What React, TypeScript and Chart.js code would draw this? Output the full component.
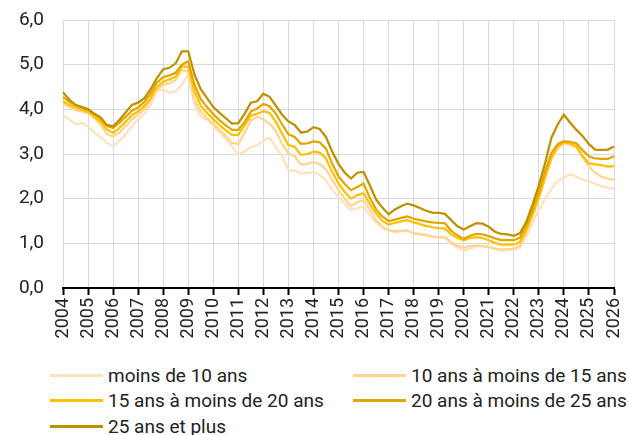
import React, { useEffect, useRef } from 'react';
import { Chart, registerables } from 'chart.js';

Chart.register(...registerables);

const years = [2004, 2005, 2006, 2007, 2008, 2009, 2010, 2011, 2012, 2013, 2014, 2015, 2016, 2017, 2018, 2019, 2020, 2021, 2022, 2023, 2024, 2025, 2026];
const quarters = ['T1', 'T2', 'T3', 'T4'];

const seriesNames = [
  'moins de 10 ans',
  '10 ans à moins de 15 ans',
  '15 ans à moins de 20 ans',
  '20 ans à moins de 25 ans',
  '25 ans et plus',
];
const seriesColors = ['#FFE2BC', '#FFD592', '#FFC000', '#E0A800', '#BF9000'];

const moins10 = [3.86, 3.78, 3.66, 3.70, 3.62, 3.48, 3.38, 3.25, 3.17, 3.30, 3.45, 3.62, 3.77, 3.90, 4.10, 4.42, 4.44, 4.37, 4.40, 4.55, 4.78, 4.10, 3.83, 3.77, 3.62, 3.48, 3.33, 3.17, 2.98, 3.06, 3.15, 3.19, 3.30, 3.36, 3.15, 2.95, 2.64, 2.63, 2.57, 2.57, 2.60,
  2.53, 2.40, 2.20, 2.04, 1.88, 1.74, 1.79, 1.82, 1.62, 1.47, 1.35, 1.29, 1.25, 1.27, 1.29, 1.23, 1.22, 1.20, 1.15, 1.13, 1.14, 1.00, 0.90, 0.84, 0.88, 0.93, 0.93, 0.92, 0.87, 0.84, 0.85, 0.86, 0.90, 1.15, 1.45, 1.75, 2.00, 2.22, 2.39, 2.47, 2.55, 2.49, 2.43, 2.39, 2.33, 2.28, 2.25, 2.22];
const de10a15 = [4.14, 4.05, 3.98, 3.95, 3.92, 3.80, 3.65, 3.45, 3.39, 3.48, 3.62, 3.77, 3.88, 4.00, 4.20, 4.45, 4.55, 4.58, 4.66, 4.88, 4.85, 4.20, 3.95, 3.80, 3.68, 3.54, 3.40, 3.25, 3.22, 3.48, 3.75, 3.84, 3.77, 3.68, 3.52, 3.22, 3.02, 2.95, 2.76, 2.78, 2.82,
  2.77, 2.66, 2.42, 2.19, 2.00, 1.83, 1.92, 1.97, 1.75, 1.52, 1.38, 1.29, 1.27, 1.28, 1.29, 1.22, 1.20, 1.18, 1.15, 1.14, 1.14, 1.02, 0.95, 0.90, 0.94, 0.95, 0.94, 0.92, 0.88, 0.86, 0.87, 0.88, 0.95, 1.25, 1.62, 2.00, 2.45, 2.88, 3.12, 3.24, 3.20, 3.15, 2.92, 2.72, 2.58, 2.49, 2.45, 2.42];
const de15a20 = [4.18, 4.10, 4.04, 3.99, 3.95, 3.84, 3.72, 3.55, 3.47, 3.58, 3.72, 3.87, 3.95, 4.08, 4.25, 4.50, 4.62, 4.67, 4.73, 4.96, 4.95, 4.40, 4.08, 3.92, 3.78, 3.65, 3.53, 3.43, 3.43, 3.64, 3.86, 3.90, 3.96, 3.92, 3.72, 3.45, 3.20, 3.16, 2.98, 3.00, 3.05,
  3.03, 2.90, 2.60, 2.34, 2.15, 2.00, 2.08, 2.12, 1.88, 1.67, 1.50, 1.42, 1.46, 1.49, 1.52, 1.47, 1.43, 1.39, 1.36, 1.34, 1.33, 1.20, 1.12, 1.07, 1.12, 1.14, 1.12, 1.07, 1.01, 0.97, 0.97, 0.97, 1.03, 1.30, 1.65, 2.04, 2.50, 2.92, 3.17, 3.26, 3.24, 3.17, 2.95, 2.79, 2.77, 2.75, 2.72, 2.73];
const de20a25 = [4.28, 4.17, 4.09, 4.05, 4.00, 3.90, 3.79, 3.63, 3.58, 3.70, 3.83, 3.97, 4.04, 4.17, 4.35, 4.60, 4.72, 4.76, 4.82, 5.00, 5.08, 4.55, 4.23, 4.05, 3.89, 3.76, 3.64, 3.54, 3.54, 3.72, 3.95, 4.02, 4.12, 4.07, 3.90, 3.66, 3.44, 3.38, 3.23, 3.24, 3.28,
  3.26, 3.12, 2.78, 2.50, 2.33, 2.19, 2.26, 2.34, 2.02, 1.76, 1.60, 1.50, 1.53, 1.57, 1.60, 1.55, 1.52, 1.49, 1.47, 1.46, 1.45, 1.28, 1.18, 1.10, 1.17, 1.21, 1.20, 1.16, 1.11, 1.07, 1.07, 1.07, 1.13, 1.40, 1.76, 2.15, 2.62, 3.02, 3.22, 3.29, 3.27, 3.24, 3.08, 2.95, 2.90, 2.89, 2.89, 2.95];
const plus25 = [4.38, 4.22, 4.10, 4.05, 4.00, 3.90, 3.82, 3.65, 3.62, 3.76, 3.93, 4.10, 4.15, 4.25, 4.45, 4.70, 4.90, 4.93, 5.03, 5.30, 5.30, 4.78, 4.45, 4.25, 4.05, 3.92, 3.80, 3.68, 3.69, 3.90, 4.15, 4.18, 4.35, 4.28, 4.08, 3.88, 3.73, 3.65, 3.48, 3.50, 3.60,
  3.56, 3.38, 3.05, 2.78, 2.58, 2.45, 2.58, 2.60, 2.30, 1.98, 1.80, 1.65, 1.76, 1.83, 1.89, 1.85, 1.79, 1.73, 1.69, 1.68, 1.66, 1.52, 1.38, 1.31, 1.38, 1.45, 1.44, 1.37, 1.26, 1.21, 1.20, 1.17, 1.23, 1.48, 1.87, 2.30, 2.80, 3.36, 3.66, 3.88, 3.70, 3.54, 3.40, 3.22, 3.10, 3.09, 3.10, 3.17];

const seriesValues = [moins10, de10a15, de15a20, de20a25, plus25];

const labels: string[] = [];
years.forEach((y, yi) => {
  quarters.forEach((q, qi) => {
    if (yi < years.length - 1 || qi === 0) labels.push(`${y}${q}`);
  });
});

const FONT = 'Roboto';
const TEXT = '#222222';

export default function App() {
  const ref = useRef<HTMLCanvasElement | null>(null);

  useEffect(() => {
    if (!ref.current) return;
    const chart = new Chart(ref.current, {
      type: 'line',
      data: {
        labels,
        datasets: seriesValues.map((vals, i) => ({
          label: seriesNames[i],
          data: vals,
          borderColor: seriesColors[i],
          backgroundColor: seriesColors[i],
          borderWidth: 2.25,
          pointRadius: 0,
          tension: 0,
          fill: false,
          order: seriesValues.length - 1 - i,
        })),
      },
      options: {
        responsive: false,
        animation: false,
        layout: { padding: { top: 20, right: 14, left: 0, bottom: 0 } },
        plugins: { legend: { display: false }, tooltip: { enabled: false } },
        scales: {
          x: {
            type: 'category',
            offset: false,
            afterFit: (scale: any) => {
              scale.height = 64;
              scale.paddingLeft = 0;
              scale.paddingRight = 0;
            },
            grid: {
              offset: false,
              color: (ctx: any) => (ctx.index % 4 === 0 ? '#d9d9d9' : 'rgba(0,0,0,0)'),
              tickColor: (ctx: any) => (ctx.index % 4 === 0 ? '#000000' : 'rgba(0,0,0,0)'),
              lineWidth: 1,
              tickLength: 7,
              tickWidth: 2,
              drawTicks: true,
            },
            border: { display: true, color: '#000000', width: 2 },
            ticks: {
              autoSkip: false,
              minRotation: 90,
              maxRotation: 90,
              padding: 3,
              color: TEXT,
              font: { family: FONT, size: 18 },
              callback: (_v: any, index: number) => (index % 4 === 0 ? labels[index].slice(0, 4) : ''),
            },
          },
          y: {
            min: 0,
            max: 6,
            afterFit: (scale: any) => {
              scale.width = 63;
              scale.paddingTop = 0;
              scale.paddingBottom = 0;
            },
            grid: { color: '#d9d9d9', lineWidth: 1, drawTicks: false },
            border: { display: false },
            ticks: {
              stepSize: 1,
              padding: 19,
              color: TEXT,
              font: { family: FONT, size: 19 },
              callback: (v: any) => Number(v).toFixed(1).replace('.', ','),
            },
          },
        },
      },
    });
    return () => chart.destroy();
  }, []);

  const legendRow = (i: number, left: number, top: number) => (
    <div
      key={i}
      style={{ position: 'absolute', left, top, height: 25, display: 'flex', alignItems: 'center' }}
    >
      <div style={{ width: 53, height: 2.5, background: seriesColors[i] }} />
      <span style={{ marginLeft: 5, fontFamily: FONT, fontSize: 19, color: TEXT, whiteSpace: 'nowrap', lineHeight: '25px' }}>
        {seriesNames[i]}
      </span>
    </div>
  );

  return (
    <div style={{ position: 'fixed', left: 0, top: 0, width: 628, height: 435, background: '#ffffff', overflow: 'hidden' }}>
      <canvas ref={ref} width={628} height={352} style={{ position: 'absolute', left: 0, top: 0, width: 628, height: 352 }} />
      {legendRow(0, 50, 363)}
      {legendRow(1, 353, 363)}
      {legendRow(2, 50, 388)}
      {legendRow(3, 353, 388)}
      {legendRow(4, 50, 414)}
    </div>
  );
}
